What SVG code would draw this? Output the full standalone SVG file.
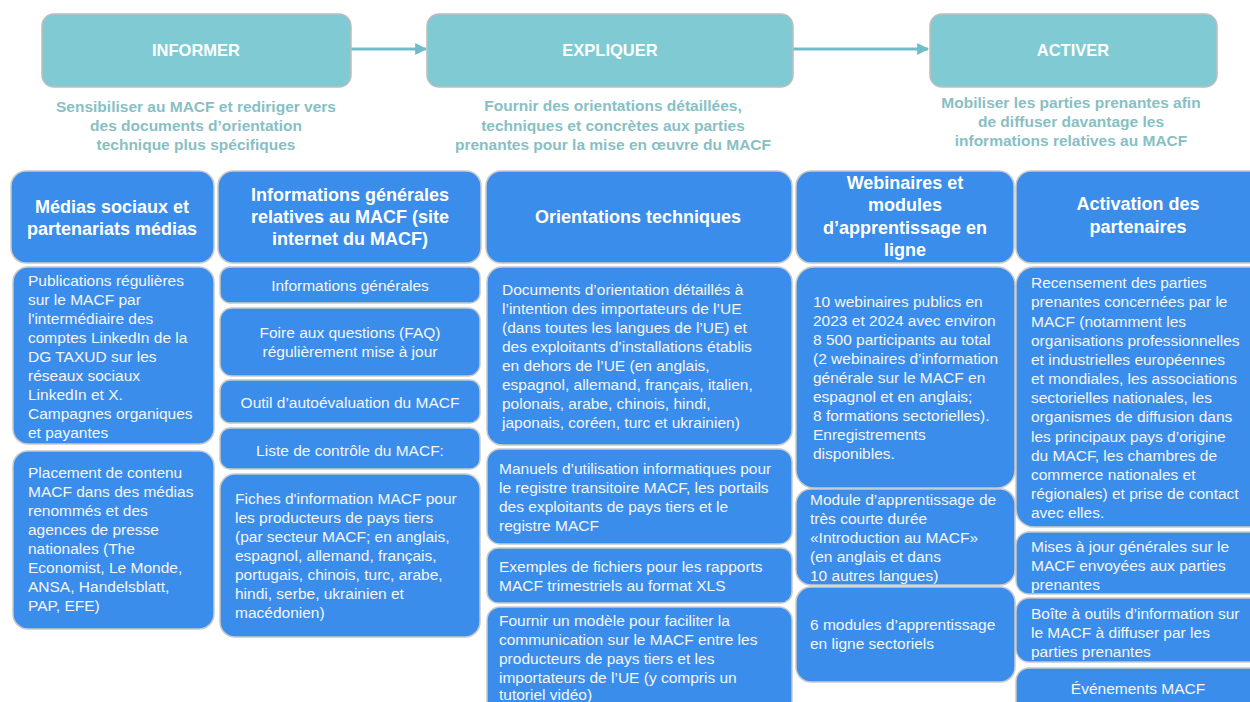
<svg xmlns="http://www.w3.org/2000/svg" width="1250" height="702" viewBox="0 0 1250 702">
<defs>
<style>
.top{fill:#7FCAD3;stroke:#BDBDBD;stroke-width:1.5}
.ttl{font-family:"Liberation Sans",Arial,sans-serif;font-weight:bold;font-size:16.5px;fill:#FFFFFF;text-anchor:middle}
.sub{font-family:"Liberation Sans",Arial,sans-serif;font-weight:bold;font-size:15.5px;fill:#88BFC4;text-anchor:middle}
.box{fill:#3B8DEB;stroke:#C9C9C9;stroke-width:1.5}
.hd{font-family:"Liberation Sans",Arial,sans-serif;font-weight:bold;font-size:18px;fill:#FFFFFF;text-anchor:middle}
.tx{font-family:"Liberation Sans",Arial,sans-serif;font-size:15.5px;fill:#F4F6FA}
.tc{text-anchor:middle}
.arr{stroke:#6FBDC7;stroke-width:3;fill:none}
</style>
<marker id="ah" viewBox="0 0 10 10" refX="9" refY="5" markerWidth="4" markerHeight="4" orient="auto" markerUnits="strokeWidth">
<path d="M0,0 L10,5 L0,10 z" fill="#6FBDC7"/>
</marker>
</defs>
<rect width="1250" height="702" fill="#FFFFFF"/>

<g id="connectors">
<line class="arr" x1="351" y1="49" x2="426" y2="49" marker-end="url(#ah)"/>
<line class="arr" x1="793" y1="49" x2="928" y2="49" marker-end="url(#ah)"/>
</g>

<g id="informer">
<rect class="top" x="42" y="14" width="309" height="73" rx="12"/>
<text class="ttl" x="196" y="56">INFORMER</text>
<text class="sub"><tspan x="196" y="112">Sensibiliser au MACF et rediriger vers</tspan><tspan x="196" y="131">des documents d’orientation</tspan><tspan x="196" y="150">technique plus spécifiques</tspan></text>
</g>

<g id="expliquer">
<rect class="top" x="427" y="14" width="366" height="73" rx="12"/>
<text class="ttl" x="610" y="56">EXPLIQUER</text>
<text class="sub"><tspan x="613" y="111">Fournir des orientations détaillées,</tspan><tspan x="613" y="131">techniques et concrètes aux parties</tspan><tspan x="613" y="150">prenantes pour la mise en œuvre du MACF</tspan></text>
</g>

<g id="activer">
<rect class="top" x="930" y="14" width="287" height="73" rx="12"/>
<text class="ttl" x="1073" y="56">ACTIVER</text>
<text class="sub"><tspan x="1071" y="108">Mobiliser les parties prenantes afin</tspan><tspan x="1071" y="127">de diffuser davantage les</tspan><tspan x="1071" y="146">informations relatives au MACF</tspan></text>
</g>

<g id="col1-header">
<rect class="box" x="11" y="171" width="203" height="92" rx="15"/>
<text class="hd"><tspan x="112" y="213">Médias sociaux et</tspan><tspan x="112" y="235">partenariats médias</tspan></text>
</g>
<g id="col1-item1">
<rect class="box" x="13" y="267" width="201" height="177" rx="15"/>
<text class="tx"><tspan x="28" y="286">Publications régulières</tspan><tspan x="28" y="305">sur le MACF par</tspan><tspan x="28" y="324">l'intermédiaire des</tspan><tspan x="28" y="343">comptes LinkedIn de la</tspan><tspan x="28" y="362">DG TAXUD sur les</tspan><tspan x="28" y="381">réseaux sociaux</tspan><tspan x="28" y="400">LinkedIn et X.</tspan><tspan x="28" y="419">Campagnes organiques</tspan><tspan x="28" y="438">et payantes</tspan></text>
</g>
<g id="col1-item2">
<rect class="box" x="13" y="451" width="201" height="178" rx="15"/>
<text class="tx"><tspan x="28" y="478">Placement de contenu</tspan><tspan x="28" y="497">MACF dans des médias</tspan><tspan x="28" y="516">renommés et des</tspan><tspan x="28" y="535">agences de presse</tspan><tspan x="28" y="554">nationales (The</tspan><tspan x="28" y="573">Economist, Le Monde,</tspan><tspan x="28" y="592">ANSA, Handelsblatt,</tspan><tspan x="28" y="611">PAP, EFE)</tspan></text>
</g>

<g id="col2-header">
<rect class="box" x="218" y="171" width="263" height="92" rx="15"/>
<text class="hd"><tspan x="350" y="201">Informations générales</tspan><tspan x="350" y="223">relatives au MACF (site</tspan><tspan x="350" y="245">internet du MACF)</tspan></text>
</g>
<g id="col2-item1">
<rect class="box" x="220" y="267" width="260" height="36" rx="10"/>
<text class="tx tc" x="350" y="291">Informations générales</text>
</g>
<g id="col2-item2">
<rect class="box" x="220" y="308" width="260" height="68" rx="12"/>
<text class="tx tc"><tspan x="350" y="338">Foire aux questions (FAQ)</tspan><tspan x="350" y="357">régulièrement mise à jour</tspan></text>
</g>
<g id="col2-item3">
<rect class="box" x="220" y="380" width="260" height="43" rx="10"/>
<text class="tx tc" x="350" y="408">Outil d’autoévaluation du MACF</text>
</g>
<g id="col2-item4">
<rect class="box" x="220" y="428" width="260" height="41" rx="10"/>
<text class="tx tc" x="350" y="456">Liste de contrôle du MACF:</text>
</g>
<g id="col2-item5">
<rect class="box" x="220" y="474" width="260" height="163" rx="15"/>
<text class="tx"><tspan x="235" y="504">Fiches d'information MACF pour</tspan><tspan x="235" y="523">les producteurs de pays tiers</tspan><tspan x="235" y="542">(par secteur MACF; en anglais,</tspan><tspan x="235" y="561">espagnol, allemand, français,</tspan><tspan x="235" y="580">portugais, chinois, turc, arabe,</tspan><tspan x="235" y="599">hindi, serbe, ukrainien et</tspan><tspan x="235" y="618">macédonien)</tspan></text>
</g>

<g id="col3-header">
<rect class="box" x="486" y="171" width="306" height="92" rx="15"/>
<text class="hd" x="638" y="223">Orientations techniques</text>
</g>
<g id="col3-item1">
<rect class="box" x="487" y="267" width="305" height="178" rx="15"/>
<text class="tx"><tspan x="502" y="295">Documents d’orientation détaillés à</tspan><tspan x="502" y="314">l’intention des importateurs de l’UE</tspan><tspan x="502" y="333">(dans toutes les langues de l’UE) et</tspan><tspan x="502" y="352">des exploitants d’installations établis</tspan><tspan x="502" y="371">en dehors de l’UE (en anglais,</tspan><tspan x="502" y="390">espagnol, allemand, français, italien,</tspan><tspan x="502" y="409">polonais, arabe, chinois, hindi,</tspan><tspan x="502" y="428">japonais, coréen, turc et ukrainien)</tspan></text>
</g>
<g id="col3-item2">
<rect class="box" x="487" y="449" width="305" height="95" rx="13"/>
<text class="tx"><tspan x="499" y="474">Manuels d’utilisation informatiques pour</tspan><tspan x="499" y="493">le registre transitoire MACF, les portails</tspan><tspan x="499" y="512">des exploitants de pays tiers et le</tspan><tspan x="499" y="531">registre MACF</tspan></text>
</g>
<g id="col3-item3">
<rect class="box" x="487" y="548" width="305" height="55" rx="11"/>
<text class="tx"><tspan x="499" y="572">Exemples de fichiers pour les rapports</tspan><tspan x="499" y="591">MACF trimestriels au format XLS</tspan></text>
</g>
<g id="col3-item4">
<rect class="box" x="487" y="607" width="305" height="110" rx="13"/>
<text class="tx"><tspan x="499" y="626">Fournir un modèle pour faciliter la</tspan><tspan x="499" y="645">communication sur le MACF entre les</tspan><tspan x="499" y="664">producteurs de pays tiers et les</tspan><tspan x="499" y="683">importateurs de l’UE (y compris un</tspan><tspan x="499" y="700">tutoriel vidéo)</tspan></text>
</g>

<g id="col4-header">
<rect class="box" x="796" y="171" width="218" height="92" rx="15"/>
<text class="hd"><tspan x="905" y="189">Webinaires et</tspan><tspan x="905" y="211">modules</tspan><tspan x="905" y="234">d’apprentissage en</tspan><tspan x="905" y="256">ligne</tspan></text>
</g>
<g id="col4-item1">
<rect class="box" x="796" y="267" width="219" height="221" rx="18"/>
<text class="tx"><tspan x="813" y="307">10 webinaires publics en</tspan><tspan x="813" y="326">2023 et 2024 avec environ</tspan><tspan x="813" y="345">8 500 participants au total</tspan><tspan x="813" y="364">(2 webinaires d’information</tspan><tspan x="813" y="383">générale sur le MACF en</tspan><tspan x="813" y="402">espagnol et en anglais;</tspan><tspan x="813" y="421">8 formations sectorielles).</tspan><tspan x="813" y="440">Enregistrements</tspan><tspan x="813" y="459">disponibles.</tspan></text>
</g>
<g id="col4-item2">
<rect class="box" x="796" y="489" width="219" height="96" rx="15"/>
<text class="tx"><tspan x="810" y="505">Module d’apprentissage de</tspan><tspan x="810" y="524">très courte durée</tspan><tspan x="810" y="543">«Introduction au MACF»</tspan><tspan x="810" y="562">(en anglais et dans</tspan><tspan x="810" y="581">10 autres langues)</tspan></text>
</g>
<g id="col4-item3">
<rect class="box" x="796" y="587" width="219" height="95" rx="15"/>
<text class="tx"><tspan x="810" y="630">6 modules d’apprentissage</tspan><tspan x="810" y="649">en ligne sectoriels</tspan></text>
</g>

<g id="col5-header">
<rect class="box" x="1016" y="171" width="250" height="92" rx="15"/>
<text class="hd"><tspan x="1138" y="210">Activation des</tspan><tspan x="1138" y="233">partenaires</tspan></text>
</g>
<g id="col5-item1">
<rect class="box" x="1016" y="267" width="250" height="260" rx="18"/>
<text class="tx"><tspan x="1031" y="288">Recensement des parties</tspan><tspan x="1031" y="307">prenantes concernées par le</tspan><tspan x="1031" y="327">MACF (notamment les</tspan><tspan x="1031" y="346">organisations professionnelles</tspan><tspan x="1031" y="365">et industrielles européennes</tspan><tspan x="1031" y="384">et mondiales, les associations</tspan><tspan x="1031" y="403">sectorielles nationales, les</tspan><tspan x="1031" y="422">organismes de diffusion dans</tspan><tspan x="1031" y="442">les principaux pays d’origine</tspan><tspan x="1031" y="461">du MACF, les chambres de</tspan><tspan x="1031" y="480">commerce nationales et</tspan><tspan x="1031" y="499">régionales) et prise de contact</tspan><tspan x="1031" y="518">avec elles.</tspan></text>
</g>
<g id="col5-item2">
<rect class="box" x="1016" y="532" width="250" height="62" rx="13"/>
<text class="tx"><tspan x="1031" y="552">Mises à jour générales sur le</tspan><tspan x="1031" y="571">MACF envoyées aux parties</tspan><tspan x="1031" y="590">prenantes</tspan></text>
</g>
<g id="col5-item3">
<rect class="box" x="1016" y="598" width="250" height="64" rx="13"/>
<text class="tx"><tspan x="1031" y="619">Boîte à outils d’information sur</tspan><tspan x="1031" y="638">le MACF à diffuser par les</tspan><tspan x="1031" y="657">parties prenantes</tspan></text>
</g>
<g id="col5-item4">
<rect class="box" x="1016" y="668" width="250" height="50" rx="13"/>
<text class="tx tc" x="1138" y="694">Événements MACF</text>
</g>
</svg>
